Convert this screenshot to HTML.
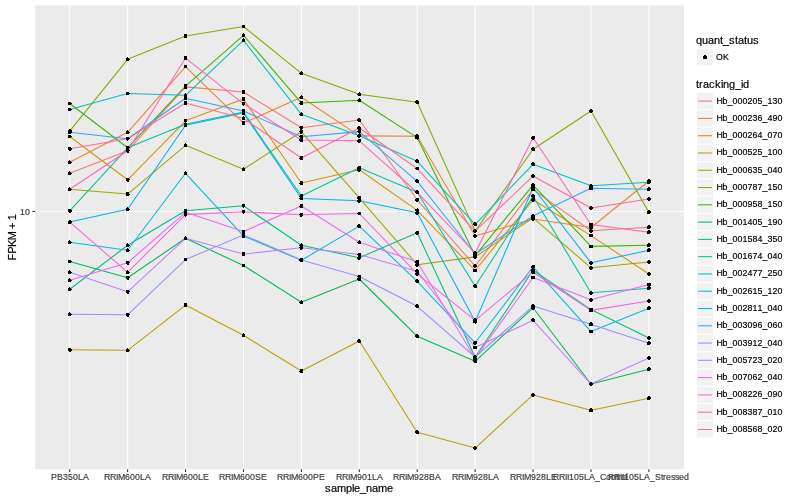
<!DOCTYPE html>
<html><head><meta charset="utf-8"><title>plot</title>
<style>html,body{margin:0;padding:0;background:#fff}svg{display:block}text{font-family:"Liberation Sans",Arial,Helvetica,sans-serif}</style></head><body>
<svg width="800" height="500" viewBox="0 0 800 500">
<rect width="800" height="500" fill="#fff"/>
<rect x="35.1" y="5.5" width="648.90" height="463.80" fill="#EBEBEB"/>
<g stroke="#fff" stroke-width="1.07" fill="none">
<line x1="35.1" x2="684.0" y1="211.45" y2="211.45"/>
<line x1="69.70" x2="69.70" y1="5.5" y2="469.3"/>
<line x1="127.62" x2="127.62" y1="5.5" y2="469.3"/>
<line x1="185.54" x2="185.54" y1="5.5" y2="469.3"/>
<line x1="243.46" x2="243.46" y1="5.5" y2="469.3"/>
<line x1="301.38" x2="301.38" y1="5.5" y2="469.3"/>
<line x1="359.30" x2="359.30" y1="5.5" y2="469.3"/>
<line x1="417.22" x2="417.22" y1="5.5" y2="469.3"/>
<line x1="475.14" x2="475.14" y1="5.5" y2="469.3"/>
<line x1="533.06" x2="533.06" y1="5.5" y2="469.3"/>
<line x1="590.98" x2="590.98" y1="5.5" y2="469.3"/>
<line x1="648.90" x2="648.90" y1="5.5" y2="469.3"/>
</g>
<g fill="none" stroke-width="1.07" stroke-linejoin="round" stroke-linecap="butt">
<polyline stroke="#F8766D" points="69.70,173.30 127.62,150.80 185.54,86.90 243.46,92.05 301.38,127.80 359.30,120.05 417.22,199.80 475.14,266.10 533.06,189.60 590.98,230.80 648.90,227.30"/>
<polyline stroke="#EA8331" points="69.70,162.30 127.62,132.30 185.54,66.55 243.46,123.10 301.38,97.30 359.30,135.90 417.22,136.30 475.14,236.10 533.06,219.00 590.98,227.50 648.90,181.00"/>
<polyline stroke="#D89000" points="69.70,136.55 127.62,179.80 185.54,120.80 243.46,99.10 301.38,183.05 359.30,169.80 417.22,210.40 475.14,270.50 533.06,199.80 590.98,235.60 648.90,274.05"/>
<polyline stroke="#C09B00" points="69.70,349.80 127.62,350.30 185.54,305.05 243.46,335.30 301.38,371.05 359.30,341.05 417.22,432.30 475.14,448.05 533.06,394.90 590.98,410.30 648.90,398.30"/>
<polyline stroke="#A3A500" points="69.70,189.30 127.62,194.05 185.54,145.30 243.46,169.30 301.38,131.80 359.30,197.80 417.22,264.80 475.14,256.90 533.06,217.80 590.98,267.80 648.90,262.05"/>
<polyline stroke="#7CAE00" points="69.70,131.10 127.62,59.30 185.54,36.05 243.46,26.50 301.38,73.30 359.30,94.30 417.22,102.30 475.14,231.10 533.06,149.30 590.98,111.05 648.90,212.30"/>
<polyline stroke="#39B600" points="69.70,103.55 127.62,147.80 185.54,86.10 243.46,35.30 301.38,103.05 359.30,100.30 417.22,137.60 475.14,255.70 533.06,185.10 590.98,246.40 648.90,245.30"/>
<polyline stroke="#00BB4E" points="69.70,261.55 127.62,277.80 185.54,238.30 243.46,265.55 301.38,302.30 359.30,279.00 417.22,336.30 475.14,361.30 533.06,307.80 590.98,384.05 648.90,369.30"/>
<polyline stroke="#00BF7D" points="69.70,289.30 127.62,245.30 185.54,210.80 243.46,205.80 301.38,245.30 359.30,257.80 417.22,232.80 475.14,357.30 533.06,270.30 590.98,309.60 648.90,338.05"/>
<polyline stroke="#00C1A3" points="69.70,210.80 127.62,147.80 185.54,124.30 243.46,112.10 301.38,196.05 359.30,167.80 417.22,192.30 475.14,286.30 533.06,196.30 590.98,292.80 648.90,288.30"/>
<polyline stroke="#00BFC4" points="69.70,109.55 127.62,93.55 185.54,95.30 243.46,40.30 301.38,114.30 359.30,135.80 417.22,161.30 475.14,224.30 533.06,164.30 590.98,185.80 648.90,182.20"/>
<polyline stroke="#00BAE0" points="69.70,242.30 127.62,250.30 185.54,173.30 243.46,235.90 301.38,260.30 359.30,226.10 417.22,281.30 475.14,342.80 533.06,266.80 590.98,331.55 648.90,308.30"/>
<polyline stroke="#00B0F6" points="69.70,222.05 127.62,209.30 185.54,125.30 243.46,113.10 301.38,198.55 359.30,200.80 417.22,212.80 475.14,321.60 533.06,187.50 590.98,262.80 648.90,250.30"/>
<polyline stroke="#35A2FF" points="69.70,132.30 127.62,138.70 185.54,98.30 243.46,111.05 301.38,136.80 359.30,131.60 417.22,181.30 475.14,254.00 533.06,216.00 590.98,188.30 648.90,189.30"/>
<polyline stroke="#9590FF" points="69.70,314.30 127.62,314.80 185.54,259.55 243.46,234.90 301.38,259.90 359.30,276.60 417.22,306.30 475.14,357.00 533.06,306.05 590.98,324.30 648.90,343.30"/>
<polyline stroke="#C77CFF" points="69.70,272.30 127.62,291.80 185.54,238.30 243.46,254.05 301.38,247.80 359.30,254.55 417.22,271.30 475.14,347.50 533.06,320.30 590.98,384.05 648.90,358.05"/>
<polyline stroke="#E76BF3" points="69.70,280.30 127.62,262.80 185.54,212.30 243.46,231.60 301.38,206.05 359.30,242.30 417.22,261.80 475.14,358.50 533.06,277.50 590.98,299.80 648.90,284.55"/>
<polyline stroke="#FA62DB" points="69.70,222.05 127.62,272.30 185.54,214.60 243.46,211.80 301.38,214.80 359.30,213.50 417.22,273.80 475.14,320.30 533.06,272.20 590.98,310.40 648.90,301.05"/>
<polyline stroke="#FF62BC" points="69.70,189.30 127.62,150.80 185.54,58.05 243.46,103.80 301.38,140.00 359.30,140.80 417.22,192.30 475.14,253.00 533.06,137.80 590.98,224.50 648.90,232.30"/>
<polyline stroke="#FF6A98" points="69.70,148.80 127.62,138.70 185.54,103.05 243.46,118.40 301.38,158.05 359.30,128.05 417.22,168.55 475.14,231.10 533.06,176.05 590.98,208.05 648.90,199.05"/>
</g>
<path fill="#000" shape-rendering="crispEdges" d="M69 171h1v1h-1zM68 172h3v1h-3zM68 173h4v1h-4zM68 174h3v1h-3zM126 149h3v1h-3zM126 150h4v1h-4zM126 151h3v1h-3zM127 152h2v1h-2zM184 85h3v1h-3zM184 86h3v1h-3zM184 87h3v1h-3zM184 88h3v1h-3zM242 90h3v1h-3zM242 91h3v1h-3zM242 92h3v1h-3zM242 93h3v1h-3zM300 126h3v1h-3zM299 127h4v1h-4zM300 128h3v1h-3zM300 129h2v1h-2zM358 118h2v1h-2zM357 119h4v1h-4zM357 120h4v1h-4zM358 121h3v1h-3zM416 198h3v1h-3zM415 199h4v1h-4zM415 200h4v1h-4zM416 201h2v1h-2zM474 264h2v1h-2zM473 265h4v1h-4zM473 266h4v1h-4zM474 267h2v1h-2zM531 188h4v1h-4zM531 189h4v1h-4zM531 190h4v1h-4zM590 229h2v1h-2zM589 230h4v1h-4zM589 231h4v1h-4zM590 232h2v1h-2zM648 225h2v1h-2zM647 226h4v1h-4zM647 227h4v1h-4zM647 228h3v1h-3zM69 160h1v1h-1zM68 161h3v1h-3zM68 162h4v1h-4zM68 163h3v1h-3zM127 130h1v1h-1zM126 131h3v1h-3zM126 132h4v1h-4zM126 133h3v1h-3zM184 65h3v1h-3zM184 66h3v1h-3zM184 67h3v1h-3zM242 121h3v1h-3zM242 122h3v1h-3zM242 123h3v1h-3zM242 124h3v1h-3zM301 95h1v1h-1zM300 96h3v1h-3zM299 97h4v1h-4zM300 98h3v1h-3zM358 134h3v1h-3zM357 135h4v1h-4zM357 136h4v1h-4zM358 137h2v1h-2zM416 134h2v1h-2zM415 135h4v1h-4zM415 136h4v1h-4zM416 137h3v1h-3zM474 234h2v1h-2zM473 235h4v1h-4zM473 236h4v1h-4zM474 237h2v1h-2zM532 217h2v1h-2zM531 218h4v1h-4zM531 219h4v1h-4zM532 220h2v1h-2zM589 226h4v1h-4zM589 227h4v1h-4zM589 228h4v1h-4zM648 179h2v1h-2zM647 180h4v1h-4zM647 181h4v1h-4zM648 182h2v1h-2zM68 135h3v1h-3zM68 136h4v1h-4zM68 137h3v1h-3zM126 178h3v1h-3zM126 179h4v1h-4zM126 180h3v1h-3zM127 181h2v1h-2zM184 119h3v1h-3zM184 120h3v1h-3zM184 121h3v1h-3zM185 122h1v1h-1zM242 97h3v1h-3zM242 98h3v1h-3zM242 99h3v1h-3zM242 100h3v1h-3zM300 181h3v1h-3zM300 182h3v1h-3zM299 183h4v1h-4zM300 184h3v1h-3zM358 168h3v1h-3zM357 169h4v1h-4zM357 170h4v1h-4zM358 171h2v1h-2zM417 208h1v1h-1zM415 209h4v1h-4zM415 210h4v1h-4zM416 211h3v1h-3zM473 269h4v1h-4zM473 270h4v1h-4zM473 271h4v1h-4zM532 198h3v1h-3zM531 199h4v1h-4zM531 200h4v1h-4zM532 201h2v1h-2zM589 234h4v1h-4zM589 235h4v1h-4zM589 236h4v1h-4zM648 272h2v1h-2zM647 273h4v1h-4zM647 274h4v1h-4zM648 275h2v1h-2zM68 348h3v1h-3zM68 349h4v1h-4zM68 350h4v1h-4zM69 351h2v1h-2zM127 348h1v1h-1zM126 349h3v1h-3zM126 350h4v1h-4zM126 351h3v1h-3zM184 303h3v1h-3zM184 304h3v1h-3zM184 305h3v1h-3zM184 306h3v1h-3zM243 333h1v1h-1zM242 334h3v1h-3zM242 335h3v1h-3zM242 336h3v1h-3zM300 369h3v1h-3zM300 370h3v1h-3zM299 371h4v1h-4zM300 372h3v1h-3zM358 339h2v1h-2zM357 340h4v1h-4zM357 341h4v1h-4zM358 342h3v1h-3zM416 430h2v1h-2zM415 431h4v1h-4zM415 432h4v1h-4zM416 433h3v1h-3zM474 446h2v1h-2zM473 447h4v1h-4zM473 448h4v1h-4zM474 449h2v1h-2zM532 393h2v1h-2zM531 394h4v1h-4zM531 395h4v1h-4zM532 396h2v1h-2zM590 408h2v1h-2zM589 409h4v1h-4zM589 410h4v1h-4zM589 411h4v1h-4zM648 396h2v1h-2zM647 397h4v1h-4zM647 398h4v1h-4zM647 399h3v1h-3zM69 187h1v1h-1zM68 188h3v1h-3zM68 189h4v1h-4zM68 190h3v1h-3zM126 192h3v1h-3zM126 193h3v1h-3zM126 194h4v1h-4zM126 195h3v1h-3zM185 143h1v1h-1zM184 144h3v1h-3zM184 145h3v1h-3zM184 146h3v1h-3zM243 167h1v1h-1zM242 168h3v1h-3zM242 169h3v1h-3zM242 170h3v1h-3zM300 130h3v1h-3zM299 131h4v1h-4zM300 132h3v1h-3zM300 133h2v1h-2zM358 196h3v1h-3zM357 197h4v1h-4zM357 198h4v1h-4zM358 199h2v1h-2zM416 263h3v1h-3zM415 264h4v1h-4zM415 265h4v1h-4zM416 266h2v1h-2zM474 255h2v1h-2zM473 256h4v1h-4zM473 257h4v1h-4zM474 258h2v1h-2zM532 216h3v1h-3zM531 217h4v1h-4zM531 218h4v1h-4zM532 219h2v1h-2zM590 266h2v1h-2zM589 267h4v1h-4zM589 268h4v1h-4zM590 269h2v1h-2zM648 260h2v1h-2zM647 261h4v1h-4zM647 262h4v1h-4zM648 263h2v1h-2zM69 129h2v1h-2zM68 130h4v1h-4zM68 131h4v1h-4zM68 132h3v1h-3zM127 57h1v1h-1zM126 58h3v1h-3zM126 59h4v1h-4zM126 60h3v1h-3zM184 34h3v1h-3zM184 35h3v1h-3zM184 36h3v1h-3zM184 37h3v1h-3zM242 25h3v1h-3zM242 26h3v1h-3zM242 27h3v1h-3zM301 71h1v1h-1zM300 72h3v1h-3zM299 73h4v1h-4zM300 74h3v1h-3zM359 92h1v1h-1zM358 93h3v1h-3zM357 94h4v1h-4zM358 95h3v1h-3zM416 100h2v1h-2zM415 101h4v1h-4zM415 102h4v1h-4zM416 103h3v1h-3zM474 229h2v1h-2zM473 230h4v1h-4zM473 231h4v1h-4zM474 232h2v1h-2zM532 147h2v1h-2zM531 148h4v1h-4zM531 149h4v1h-4zM532 150h3v1h-3zM590 109h2v1h-2zM589 110h4v1h-4zM589 111h4v1h-4zM590 112h2v1h-2zM648 210h2v1h-2zM647 211h4v1h-4zM647 212h4v1h-4zM647 213h3v1h-3zM68 102h3v1h-3zM68 103h4v1h-4zM68 104h3v1h-3zM126 146h3v1h-3zM126 147h4v1h-4zM126 148h3v1h-3zM127 149h2v1h-2zM184 84h3v1h-3zM184 85h3v1h-3zM184 86h3v1h-3zM184 87h3v1h-3zM243 33h1v1h-1zM242 34h3v1h-3zM242 35h3v1h-3zM242 36h3v1h-3zM300 101h3v1h-3zM300 102h3v1h-3zM299 103h4v1h-4zM300 104h3v1h-3zM359 98h1v1h-1zM358 99h3v1h-3zM357 100h4v1h-4zM358 101h3v1h-3zM416 136h3v1h-3zM415 137h4v1h-4zM415 138h4v1h-4zM417 139h1v1h-1zM474 254h3v1h-3zM473 255h4v1h-4zM473 256h4v1h-4zM474 257h2v1h-2zM532 183h2v1h-2zM531 184h4v1h-4zM531 185h4v1h-4zM532 186h2v1h-2zM589 245h4v1h-4zM589 246h4v1h-4zM589 247h4v1h-4zM648 243h2v1h-2zM647 244h4v1h-4zM647 245h4v1h-4zM647 246h3v1h-3zM68 260h3v1h-3zM68 261h4v1h-4zM68 262h3v1h-3zM126 276h3v1h-3zM126 277h4v1h-4zM126 278h3v1h-3zM127 279h2v1h-2zM185 236h1v1h-1zM184 237h3v1h-3zM184 238h3v1h-3zM184 239h3v1h-3zM242 264h3v1h-3zM242 265h3v1h-3zM242 266h3v1h-3zM301 300h1v1h-1zM300 301h3v1h-3zM299 302h4v1h-4zM300 303h3v1h-3zM358 277h3v1h-3zM357 278h4v1h-4zM357 279h4v1h-4zM358 280h3v1h-3zM416 334h2v1h-2zM415 335h4v1h-4zM415 336h4v1h-4zM416 337h3v1h-3zM474 359h2v1h-2zM473 360h4v1h-4zM473 361h4v1h-4zM474 362h3v1h-3zM532 306h3v1h-3zM531 307h4v1h-4zM531 308h4v1h-4zM532 309h2v1h-2zM590 382h2v1h-2zM589 383h4v1h-4zM589 384h4v1h-4zM590 385h2v1h-2zM648 367h2v1h-2zM647 368h4v1h-4zM647 369h4v1h-4zM647 370h3v1h-3zM69 287h1v1h-1zM68 288h3v1h-3zM68 289h4v1h-4zM68 290h3v1h-3zM127 243h1v1h-1zM126 244h3v1h-3zM126 245h4v1h-4zM126 246h3v1h-3zM184 209h3v1h-3zM184 210h3v1h-3zM184 211h3v1h-3zM185 212h1v1h-1zM242 204h3v1h-3zM242 205h3v1h-3zM242 206h3v1h-3zM243 207h1v1h-1zM301 243h1v1h-1zM300 244h3v1h-3zM299 245h4v1h-4zM300 246h3v1h-3zM358 256h3v1h-3zM357 257h4v1h-4zM357 258h4v1h-4zM358 259h2v1h-2zM416 231h3v1h-3zM415 232h4v1h-4zM415 233h4v1h-4zM416 234h2v1h-2zM474 355h2v1h-2zM473 356h4v1h-4zM473 357h4v1h-4zM474 358h3v1h-3zM532 268h2v1h-2zM531 269h4v1h-4zM531 270h4v1h-4zM532 271h3v1h-3zM589 308h4v1h-4zM589 309h4v1h-4zM589 310h4v1h-4zM648 336h2v1h-2zM647 337h4v1h-4zM647 338h4v1h-4zM648 339h2v1h-2zM68 209h3v1h-3zM68 210h4v1h-4zM68 211h4v1h-4zM69 212h2v1h-2zM126 146h3v1h-3zM126 147h4v1h-4zM126 148h3v1h-3zM127 149h2v1h-2zM185 122h1v1h-1zM184 123h3v1h-3zM184 124h3v1h-3zM184 125h3v1h-3zM242 110h3v1h-3zM242 111h3v1h-3zM242 112h3v1h-3zM242 113h3v1h-3zM300 194h3v1h-3zM300 195h3v1h-3zM299 196h4v1h-4zM300 197h3v1h-3zM358 166h3v1h-3zM357 167h4v1h-4zM357 168h4v1h-4zM358 169h2v1h-2zM416 190h2v1h-2zM415 191h4v1h-4zM415 192h4v1h-4zM416 193h3v1h-3zM474 284h2v1h-2zM473 285h4v1h-4zM473 286h4v1h-4zM474 287h3v1h-3zM532 194h2v1h-2zM531 195h4v1h-4zM531 196h4v1h-4zM532 197h3v1h-3zM590 291h2v1h-2zM589 292h4v1h-4zM589 293h4v1h-4zM590 294h2v1h-2zM648 286h2v1h-2zM647 287h4v1h-4zM647 288h4v1h-4zM647 289h3v1h-3zM68 108h3v1h-3zM68 109h4v1h-4zM68 110h3v1h-3zM126 92h3v1h-3zM126 93h4v1h-4zM126 94h3v1h-3zM185 93h1v1h-1zM184 94h3v1h-3zM184 95h3v1h-3zM184 96h3v1h-3zM243 38h1v1h-1zM242 39h3v1h-3zM242 40h3v1h-3zM242 41h3v1h-3zM301 112h1v1h-1zM300 113h3v1h-3zM299 114h4v1h-4zM300 115h3v1h-3zM358 134h3v1h-3zM357 135h4v1h-4zM357 136h4v1h-4zM358 137h2v1h-2zM416 159h2v1h-2zM415 160h4v1h-4zM415 161h4v1h-4zM416 162h3v1h-3zM474 222h2v1h-2zM473 223h4v1h-4zM473 224h4v1h-4zM474 225h3v1h-3zM532 162h2v1h-2zM531 163h4v1h-4zM531 164h4v1h-4zM532 165h3v1h-3zM590 184h2v1h-2zM589 185h4v1h-4zM589 186h4v1h-4zM590 187h2v1h-2zM648 180h2v1h-2zM647 181h4v1h-4zM647 182h4v1h-4zM647 183h3v1h-3zM69 240h1v1h-1zM68 241h3v1h-3zM68 242h4v1h-4zM68 243h3v1h-3zM127 248h1v1h-1zM126 249h3v1h-3zM126 250h4v1h-4zM126 251h3v1h-3zM185 171h1v1h-1zM184 172h3v1h-3zM184 173h3v1h-3zM184 174h3v1h-3zM242 234h3v1h-3zM242 235h3v1h-3zM242 236h3v1h-3zM242 237h3v1h-3zM301 258h1v1h-1zM300 259h3v1h-3zM299 260h4v1h-4zM300 261h3v1h-3zM358 224h2v1h-2zM357 225h4v1h-4zM357 226h4v1h-4zM358 227h3v1h-3zM416 279h2v1h-2zM415 280h4v1h-4zM415 281h4v1h-4zM416 282h3v1h-3zM474 341h3v1h-3zM473 342h4v1h-4zM473 343h4v1h-4zM474 344h2v1h-2zM532 265h3v1h-3zM531 266h4v1h-4zM531 267h4v1h-4zM532 268h2v1h-2zM589 330h4v1h-4zM589 331h4v1h-4zM589 332h4v1h-4zM648 306h2v1h-2zM647 307h4v1h-4zM647 308h4v1h-4zM647 309h3v1h-3zM69 220h2v1h-2zM68 221h4v1h-4zM68 222h4v1h-4zM68 223h3v1h-3zM127 207h1v1h-1zM126 208h3v1h-3zM126 209h4v1h-4zM126 210h3v1h-3zM185 123h1v1h-1zM184 124h3v1h-3zM184 125h3v1h-3zM184 126h3v1h-3zM242 111h3v1h-3zM242 112h3v1h-3zM242 113h3v1h-3zM242 114h3v1h-3zM300 197h3v1h-3zM299 198h4v1h-4zM300 199h3v1h-3zM358 199h3v1h-3zM357 200h4v1h-4zM357 201h4v1h-4zM358 202h2v1h-2zM416 211h3v1h-3zM415 212h4v1h-4zM415 213h4v1h-4zM416 214h2v1h-2zM474 320h3v1h-3zM473 321h4v1h-4zM473 322h4v1h-4zM475 323h1v1h-1zM531 186h4v1h-4zM531 187h4v1h-4zM531 188h4v1h-4zM590 261h2v1h-2zM589 262h4v1h-4zM589 263h4v1h-4zM590 264h2v1h-2zM648 248h2v1h-2zM647 249h4v1h-4zM647 250h4v1h-4zM647 251h3v1h-3zM69 130h1v1h-1zM68 131h3v1h-3zM68 132h4v1h-4zM68 133h3v1h-3zM126 137h3v1h-3zM126 138h4v1h-4zM126 139h3v1h-3zM127 140h1v1h-1zM185 96h1v1h-1zM184 97h3v1h-3zM184 98h3v1h-3zM184 99h3v1h-3zM242 109h3v1h-3zM242 110h3v1h-3zM242 111h3v1h-3zM242 112h3v1h-3zM300 135h3v1h-3zM299 136h4v1h-4zM300 137h3v1h-3zM300 138h2v1h-2zM358 130h3v1h-3zM357 131h4v1h-4zM358 132h3v1h-3zM359 133h1v1h-1zM416 179h2v1h-2zM415 180h4v1h-4zM415 181h4v1h-4zM416 182h3v1h-3zM474 252h2v1h-2zM473 253h4v1h-4zM473 254h4v1h-4zM474 255h2v1h-2zM532 214h2v1h-2zM531 215h4v1h-4zM531 216h4v1h-4zM532 217h2v1h-2zM590 186h2v1h-2zM589 187h4v1h-4zM589 188h4v1h-4zM589 189h4v1h-4zM648 187h2v1h-2zM647 188h4v1h-4zM647 189h4v1h-4zM647 190h3v1h-3zM69 312h1v1h-1zM68 313h3v1h-3zM68 314h4v1h-4zM68 315h3v1h-3zM126 313h3v1h-3zM126 314h4v1h-4zM126 315h3v1h-3zM127 316h2v1h-2zM184 258h3v1h-3zM184 259h3v1h-3zM184 260h3v1h-3zM242 233h3v1h-3zM242 234h3v1h-3zM242 235h3v1h-3zM242 236h3v1h-3zM300 258h3v1h-3zM299 259h4v1h-4zM300 260h3v1h-3zM300 261h2v1h-2zM358 275h3v1h-3zM357 276h4v1h-4zM358 277h3v1h-3zM359 278h1v1h-1zM416 304h2v1h-2zM415 305h4v1h-4zM415 306h4v1h-4zM416 307h3v1h-3zM474 355h2v1h-2zM473 356h4v1h-4zM473 357h4v1h-4zM474 358h2v1h-2zM532 304h2v1h-2zM531 305h4v1h-4zM531 306h4v1h-4zM532 307h2v1h-2zM590 322h2v1h-2zM589 323h4v1h-4zM589 324h4v1h-4zM589 325h4v1h-4zM648 341h2v1h-2zM647 342h4v1h-4zM647 343h4v1h-4zM647 344h3v1h-3zM69 270h1v1h-1zM68 271h3v1h-3zM68 272h4v1h-4zM68 273h3v1h-3zM126 290h3v1h-3zM126 291h4v1h-4zM126 292h3v1h-3zM127 293h2v1h-2zM185 236h1v1h-1zM184 237h3v1h-3zM184 238h3v1h-3zM184 239h3v1h-3zM242 252h3v1h-3zM242 253h3v1h-3zM242 254h3v1h-3zM242 255h3v1h-3zM300 246h3v1h-3zM299 247h4v1h-4zM300 248h3v1h-3zM300 249h2v1h-2zM358 253h3v1h-3zM357 254h4v1h-4zM358 255h3v1h-3zM416 269h2v1h-2zM415 270h4v1h-4zM415 271h4v1h-4zM416 272h3v1h-3zM473 346h4v1h-4zM473 347h4v1h-4zM473 348h4v1h-4zM532 318h2v1h-2zM531 319h4v1h-4zM531 320h4v1h-4zM532 321h3v1h-3zM590 382h2v1h-2zM589 383h4v1h-4zM589 384h4v1h-4zM590 385h2v1h-2zM648 356h2v1h-2zM647 357h4v1h-4zM647 358h4v1h-4zM648 359h2v1h-2zM69 278h1v1h-1zM68 279h3v1h-3zM68 280h4v1h-4zM68 281h3v1h-3zM126 261h3v1h-3zM126 262h4v1h-4zM126 263h3v1h-3zM127 264h2v1h-2zM185 210h1v1h-1zM184 211h3v1h-3zM184 212h3v1h-3zM184 213h3v1h-3zM242 230h3v1h-3zM242 231h3v1h-3zM242 232h3v1h-3zM243 233h1v1h-1zM300 204h3v1h-3zM300 205h3v1h-3zM299 206h4v1h-4zM300 207h3v1h-3zM359 240h1v1h-1zM358 241h3v1h-3zM357 242h4v1h-4zM358 243h3v1h-3zM416 260h3v1h-3zM415 261h4v1h-4zM415 262h4v1h-4zM416 263h2v1h-2zM473 357h4v1h-4zM473 358h4v1h-4zM473 359h4v1h-4zM531 276h4v1h-4zM531 277h4v1h-4zM531 278h4v1h-4zM590 298h2v1h-2zM589 299h4v1h-4zM589 300h4v1h-4zM590 301h2v1h-2zM647 283h4v1h-4zM647 284h4v1h-4zM647 285h4v1h-4zM69 220h2v1h-2zM68 221h4v1h-4zM68 222h4v1h-4zM68 223h3v1h-3zM127 270h1v1h-1zM126 271h3v1h-3zM126 272h4v1h-4zM126 273h3v1h-3zM184 213h3v1h-3zM184 214h3v1h-3zM184 215h3v1h-3zM185 216h1v1h-1zM242 210h3v1h-3zM242 211h3v1h-3zM242 212h3v1h-3zM243 213h1v1h-1zM300 213h3v1h-3zM299 214h4v1h-4zM300 215h3v1h-3zM300 216h2v1h-2zM358 212h3v1h-3zM357 213h4v1h-4zM358 214h3v1h-3zM416 272h3v1h-3zM415 273h4v1h-4zM415 274h4v1h-4zM416 275h2v1h-2zM474 318h2v1h-2zM473 319h4v1h-4zM473 320h4v1h-4zM474 321h3v1h-3zM532 270h2v1h-2zM531 271h4v1h-4zM531 272h4v1h-4zM532 273h3v1h-3zM589 309h4v1h-4zM589 310h4v1h-4zM589 311h4v1h-4zM648 299h2v1h-2zM647 300h4v1h-4zM647 301h4v1h-4zM648 302h2v1h-2zM69 187h1v1h-1zM68 188h3v1h-3zM68 189h4v1h-4zM68 190h3v1h-3zM126 149h3v1h-3zM126 150h4v1h-4zM126 151h3v1h-3zM127 152h2v1h-2zM184 56h3v1h-3zM184 57h3v1h-3zM184 58h3v1h-3zM184 59h3v1h-3zM242 102h3v1h-3zM242 103h3v1h-3zM242 104h3v1h-3zM243 105h1v1h-1zM300 138h3v1h-3zM299 139h4v1h-4zM299 140h4v1h-4zM300 141h3v1h-3zM358 139h3v1h-3zM357 140h4v1h-4zM357 141h4v1h-4zM358 142h2v1h-2zM416 190h2v1h-2zM415 191h4v1h-4zM415 192h4v1h-4zM416 193h3v1h-3zM474 251h2v1h-2zM473 252h4v1h-4zM473 253h4v1h-4zM474 254h2v1h-2zM532 136h3v1h-3zM531 137h4v1h-4zM531 138h4v1h-4zM532 139h2v1h-2zM589 223h4v1h-4zM589 224h4v1h-4zM589 225h4v1h-4zM648 230h2v1h-2zM647 231h4v1h-4zM647 232h4v1h-4zM647 233h3v1h-3zM68 147h3v1h-3zM68 148h4v1h-4zM68 149h4v1h-4zM69 150h2v1h-2zM126 137h3v1h-3zM126 138h4v1h-4zM126 139h3v1h-3zM127 140h1v1h-1zM184 101h3v1h-3zM184 102h3v1h-3zM184 103h3v1h-3zM184 104h3v1h-3zM243 116h1v1h-1zM242 117h3v1h-3zM242 118h3v1h-3zM242 119h3v1h-3zM300 156h3v1h-3zM300 157h3v1h-3zM299 158h4v1h-4zM300 159h3v1h-3zM358 126h2v1h-2zM357 127h4v1h-4zM357 128h4v1h-4zM358 129h3v1h-3zM416 167h3v1h-3zM415 168h4v1h-4zM416 169h3v1h-3zM474 229h2v1h-2zM473 230h4v1h-4zM473 231h4v1h-4zM474 232h2v1h-2zM532 174h2v1h-2zM531 175h4v1h-4zM531 176h4v1h-4zM532 177h2v1h-2zM590 206h2v1h-2zM589 207h4v1h-4zM589 208h4v1h-4zM590 209h2v1h-2zM648 197h2v1h-2zM647 198h4v1h-4zM647 199h4v1h-4zM648 200h2v1h-2z"/>
<g stroke="#333" stroke-width="1.07">
<line x1="32.35" x2="35.1" y1="211.45" y2="211.45"/>
<line x1="69.70" x2="69.70" y1="469.3" y2="472.05"/>
<line x1="127.62" x2="127.62" y1="469.3" y2="472.05"/>
<line x1="185.54" x2="185.54" y1="469.3" y2="472.05"/>
<line x1="243.46" x2="243.46" y1="469.3" y2="472.05"/>
<line x1="301.38" x2="301.38" y1="469.3" y2="472.05"/>
<line x1="359.30" x2="359.30" y1="469.3" y2="472.05"/>
<line x1="417.22" x2="417.22" y1="469.3" y2="472.05"/>
<line x1="475.14" x2="475.14" y1="469.3" y2="472.05"/>
<line x1="533.06" x2="533.06" y1="469.3" y2="472.05"/>
<line x1="590.98" x2="590.98" y1="469.3" y2="472.05"/>
<line x1="648.90" x2="648.90" y1="469.3" y2="472.05"/>
</g>
<text x="20 25" y="215.00" font-size="8.8" fill="#404040" stroke="#404040" stroke-width="0.18">10</text>
<text x="51 57 63 68 73 78 83" y="480.00" font-size="8.8" fill="#404040" stroke="#404040" stroke-width="0.18">PB350LA</text>
<text x="104 110 116 118 125 130 135 140 145" y="480.00" font-size="8.8" fill="#404040" stroke="#404040" stroke-width="0.18">RRIM600LA</text>
<text x="162 168 174 176 183 188 193 198 203" y="480.00" font-size="8.8" fill="#404040" stroke="#404040" stroke-width="0.18">RRIM600LE</text>
<text x="219 225 231 233 240 245 250 255 261" y="480.00" font-size="8.8" fill="#404040" stroke="#404040" stroke-width="0.18">RRIM600SE</text>
<text x="277 283 289 291 298 303 308 313 319" y="480.00" font-size="8.8" fill="#404040" stroke="#404040" stroke-width="0.18">RRIM600PE</text>
<text x="336 342 348 350 357 362 367 372 377" y="480.00" font-size="8.8" fill="#404040" stroke="#404040" stroke-width="0.18">RRIM901LA</text>
<text x="393 399 405 407 414 419 424 429 435" y="480.00" font-size="8.8" fill="#404040" stroke="#404040" stroke-width="0.18">RRIM928BA</text>
<text x="452 458 464 466 473 478 483 488 493" y="480.00" font-size="8.8" fill="#404040" stroke="#404040" stroke-width="0.18">RRIM928LA</text>
<text x="510 516 522 524 531 536 541 546 551" y="480.00" font-size="8.8" fill="#404040" stroke="#404040" stroke-width="0.18">RRIM928LE</text>
<text x="553 559 565 567 569 574 579 584 589 595 600 606 611 616 618 621 626" y="480.00" font-size="8.8" fill="#404040" stroke="#404040" stroke-width="0.18">RRII105LA_Control</text>
<text x="608 614 620 622 624 629 634 639 644 650 655 661 663 666 671 675 679 684" y="480.00" font-size="8.8" fill="#404040" stroke="#404040" stroke-width="0.18">RRII105LA_Stressed</text>
<text x="325 331 337 346 352 354 360 366 372 378 387" y="492.00" font-size="11" fill="#000" stroke="#000" stroke-width="0.18">sample_name</text>
<text transform="translate(15.8,237.40) rotate(-90)" x="-23.02 -16.34 -9.65 -2.97 5.63 8.49 14.22 17.09" y="0" font-size="11" fill="#000" stroke="#000" stroke-width="0.18">FPKM + 1</text>
<text x="696 702 708 714 720 723 729 735 738 744 747 753" y="44.00" font-size="11" fill="#000" stroke="#000" stroke-width="0.18">quant_status</text>
<rect x="696.36" y="48.7" width="17.28" height="17.28" fill="#F2F2F2" stroke="#fff" stroke-width="1.07"/>
<path fill="#000" shape-rendering="crispEdges" d="M704 55h2v1h-2zM703 56h4v1h-4zM703 57h4v1h-4zM703 58h4v1h-4z"/>
<text x="716 723" y="60.00" font-size="8.8" fill="#000" stroke="#000" stroke-width="0.18">OK</text>
<text x="696 699 703 709 715 721 723 729 735 741 743" y="88.00" font-size="11" fill="#000" stroke="#000" stroke-width="0.18">tracking_id</text>
<rect x="696.36" y="92.50" width="17.28" height="17.28" fill="#F2F2F2" stroke="#fff" stroke-width="1.07"/>
<line x1="698.09" x2="711.91" y1="101.14" y2="101.14" stroke="#F8766D" stroke-width="1.07"/>
<text x="716.6 722.6 727.6 732.6 737.6 742.6 747.6 752.6 757.6 762.6 767.6 772.6 777.6" y="103.64" font-size="8.8" fill="#000" stroke="#000" stroke-width="0.18">Hb_000205_130</text>
<rect x="696.36" y="109.78" width="17.28" height="17.28" fill="#F2F2F2" stroke="#fff" stroke-width="1.07"/>
<line x1="698.09" x2="711.91" y1="118.42" y2="118.42" stroke="#EA8331" stroke-width="1.07"/>
<text x="716.6 722.6 727.6 732.6 737.6 742.6 747.6 752.6 757.6 762.6 767.6 772.6 777.6" y="120.92" font-size="8.8" fill="#000" stroke="#000" stroke-width="0.18">Hb_000236_490</text>
<rect x="696.36" y="127.06" width="17.28" height="17.28" fill="#F2F2F2" stroke="#fff" stroke-width="1.07"/>
<line x1="698.09" x2="711.91" y1="135.70" y2="135.70" stroke="#D89000" stroke-width="1.07"/>
<text x="716.6 722.6 727.6 732.6 737.6 742.6 747.6 752.6 757.6 762.6 767.6 772.6 777.6" y="138.20" font-size="8.8" fill="#000" stroke="#000" stroke-width="0.18">Hb_000264_070</text>
<rect x="696.36" y="144.34" width="17.28" height="17.28" fill="#F2F2F2" stroke="#fff" stroke-width="1.07"/>
<line x1="698.09" x2="711.91" y1="152.98" y2="152.98" stroke="#C09B00" stroke-width="1.07"/>
<text x="716.6 722.6 727.6 732.6 737.6 742.6 747.6 752.6 757.6 762.6 767.6 772.6 777.6" y="155.48" font-size="8.8" fill="#000" stroke="#000" stroke-width="0.18">Hb_000525_100</text>
<rect x="696.36" y="161.62" width="17.28" height="17.28" fill="#F2F2F2" stroke="#fff" stroke-width="1.07"/>
<line x1="698.09" x2="711.91" y1="170.26" y2="170.26" stroke="#A3A500" stroke-width="1.07"/>
<text x="716.6 722.6 727.6 732.6 737.6 742.6 747.6 752.6 757.6 762.6 767.6 772.6 777.6" y="172.76" font-size="8.8" fill="#000" stroke="#000" stroke-width="0.18">Hb_000635_040</text>
<rect x="696.36" y="178.90" width="17.28" height="17.28" fill="#F2F2F2" stroke="#fff" stroke-width="1.07"/>
<line x1="698.09" x2="711.91" y1="187.54" y2="187.54" stroke="#7CAE00" stroke-width="1.07"/>
<text x="716.6 722.6 727.6 732.6 737.6 742.6 747.6 752.6 757.6 762.6 767.6 772.6 777.6" y="190.04" font-size="8.8" fill="#000" stroke="#000" stroke-width="0.18">Hb_000787_150</text>
<rect x="696.36" y="196.18" width="17.28" height="17.28" fill="#F2F2F2" stroke="#fff" stroke-width="1.07"/>
<line x1="698.09" x2="711.91" y1="204.82" y2="204.82" stroke="#39B600" stroke-width="1.07"/>
<text x="716.6 722.6 727.6 732.6 737.6 742.6 747.6 752.6 757.6 762.6 767.6 772.6 777.6" y="207.32" font-size="8.8" fill="#000" stroke="#000" stroke-width="0.18">Hb_000958_150</text>
<rect x="696.36" y="213.46" width="17.28" height="17.28" fill="#F2F2F2" stroke="#fff" stroke-width="1.07"/>
<line x1="698.09" x2="711.91" y1="222.10" y2="222.10" stroke="#00BB4E" stroke-width="1.07"/>
<text x="716.6 722.6 727.6 732.6 737.6 742.6 747.6 752.6 757.6 762.6 767.6 772.6 777.6" y="224.60" font-size="8.8" fill="#000" stroke="#000" stroke-width="0.18">Hb_001405_190</text>
<rect x="696.36" y="230.74" width="17.28" height="17.28" fill="#F2F2F2" stroke="#fff" stroke-width="1.07"/>
<line x1="698.09" x2="711.91" y1="239.38" y2="239.38" stroke="#00BF7D" stroke-width="1.07"/>
<text x="716.6 722.6 727.6 732.6 737.6 742.6 747.6 752.6 757.6 762.6 767.6 772.6 777.6" y="241.88" font-size="8.8" fill="#000" stroke="#000" stroke-width="0.18">Hb_001584_350</text>
<rect x="696.36" y="248.02" width="17.28" height="17.28" fill="#F2F2F2" stroke="#fff" stroke-width="1.07"/>
<line x1="698.09" x2="711.91" y1="256.66" y2="256.66" stroke="#00C1A3" stroke-width="1.07"/>
<text x="716.6 722.6 727.6 732.6 737.6 742.6 747.6 752.6 757.6 762.6 767.6 772.6 777.6" y="259.16" font-size="8.8" fill="#000" stroke="#000" stroke-width="0.18">Hb_001674_040</text>
<rect x="696.36" y="265.30" width="17.28" height="17.28" fill="#F2F2F2" stroke="#fff" stroke-width="1.07"/>
<line x1="698.09" x2="711.91" y1="273.94" y2="273.94" stroke="#00BFC4" stroke-width="1.07"/>
<text x="716.6 722.6 727.6 732.6 737.6 742.6 747.6 752.6 757.6 762.6 767.6 772.6 777.6" y="276.44" font-size="8.8" fill="#000" stroke="#000" stroke-width="0.18">Hb_002477_250</text>
<rect x="696.36" y="282.58" width="17.28" height="17.28" fill="#F2F2F2" stroke="#fff" stroke-width="1.07"/>
<line x1="698.09" x2="711.91" y1="291.22" y2="291.22" stroke="#00BAE0" stroke-width="1.07"/>
<text x="716.6 722.6 727.6 732.6 737.6 742.6 747.6 752.6 757.6 762.6 767.6 772.6 777.6" y="293.72" font-size="8.8" fill="#000" stroke="#000" stroke-width="0.18">Hb_002615_120</text>
<rect x="696.36" y="299.86" width="17.28" height="17.28" fill="#F2F2F2" stroke="#fff" stroke-width="1.07"/>
<line x1="698.09" x2="711.91" y1="308.50" y2="308.50" stroke="#00B0F6" stroke-width="1.07"/>
<text x="716.6 722.6 727.6 732.6 737.6 742.6 747.6 752.6 757.6 762.6 767.6 772.6 777.6" y="311.00" font-size="8.8" fill="#000" stroke="#000" stroke-width="0.18">Hb_002811_040</text>
<rect x="696.36" y="317.14" width="17.28" height="17.28" fill="#F2F2F2" stroke="#fff" stroke-width="1.07"/>
<line x1="698.09" x2="711.91" y1="325.78" y2="325.78" stroke="#35A2FF" stroke-width="1.07"/>
<text x="716.6 722.6 727.6 732.6 737.6 742.6 747.6 752.6 757.6 762.6 767.6 772.6 777.6" y="328.28" font-size="8.8" fill="#000" stroke="#000" stroke-width="0.18">Hb_003096_060</text>
<rect x="696.36" y="334.42" width="17.28" height="17.28" fill="#F2F2F2" stroke="#fff" stroke-width="1.07"/>
<line x1="698.09" x2="711.91" y1="343.06" y2="343.06" stroke="#9590FF" stroke-width="1.07"/>
<text x="716.6 722.6 727.6 732.6 737.6 742.6 747.6 752.6 757.6 762.6 767.6 772.6 777.6" y="345.56" font-size="8.8" fill="#000" stroke="#000" stroke-width="0.18">Hb_003912_040</text>
<rect x="696.36" y="351.70" width="17.28" height="17.28" fill="#F2F2F2" stroke="#fff" stroke-width="1.07"/>
<line x1="698.09" x2="711.91" y1="360.34" y2="360.34" stroke="#C77CFF" stroke-width="1.07"/>
<text x="716.6 722.6 727.6 732.6 737.6 742.6 747.6 752.6 757.6 762.6 767.6 772.6 777.6" y="362.84" font-size="8.8" fill="#000" stroke="#000" stroke-width="0.18">Hb_005723_020</text>
<rect x="696.36" y="368.98" width="17.28" height="17.28" fill="#F2F2F2" stroke="#fff" stroke-width="1.07"/>
<line x1="698.09" x2="711.91" y1="377.62" y2="377.62" stroke="#E76BF3" stroke-width="1.07"/>
<text x="716.6 722.6 727.6 732.6 737.6 742.6 747.6 752.6 757.6 762.6 767.6 772.6 777.6" y="380.12" font-size="8.8" fill="#000" stroke="#000" stroke-width="0.18">Hb_007062_040</text>
<rect x="696.36" y="386.26" width="17.28" height="17.28" fill="#F2F2F2" stroke="#fff" stroke-width="1.07"/>
<line x1="698.09" x2="711.91" y1="394.90" y2="394.90" stroke="#FA62DB" stroke-width="1.07"/>
<text x="716.6 722.6 727.6 732.6 737.6 742.6 747.6 752.6 757.6 762.6 767.6 772.6 777.6" y="397.40" font-size="8.8" fill="#000" stroke="#000" stroke-width="0.18">Hb_008226_090</text>
<rect x="696.36" y="403.54" width="17.28" height="17.28" fill="#F2F2F2" stroke="#fff" stroke-width="1.07"/>
<line x1="698.09" x2="711.91" y1="412.18" y2="412.18" stroke="#FF62BC" stroke-width="1.07"/>
<text x="716.6 722.6 727.6 732.6 737.6 742.6 747.6 752.6 757.6 762.6 767.6 772.6 777.6" y="414.68" font-size="8.8" fill="#000" stroke="#000" stroke-width="0.18">Hb_008387_010</text>
<rect x="696.36" y="420.82" width="17.28" height="17.28" fill="#F2F2F2" stroke="#fff" stroke-width="1.07"/>
<line x1="698.09" x2="711.91" y1="429.46" y2="429.46" stroke="#FF6A98" stroke-width="1.07"/>
<text x="716.6 722.6 727.6 732.6 737.6 742.6 747.6 752.6 757.6 762.6 767.6 772.6 777.6" y="431.96" font-size="8.8" fill="#000" stroke="#000" stroke-width="0.18">Hb_008568_020</text>
</svg></body></html>
